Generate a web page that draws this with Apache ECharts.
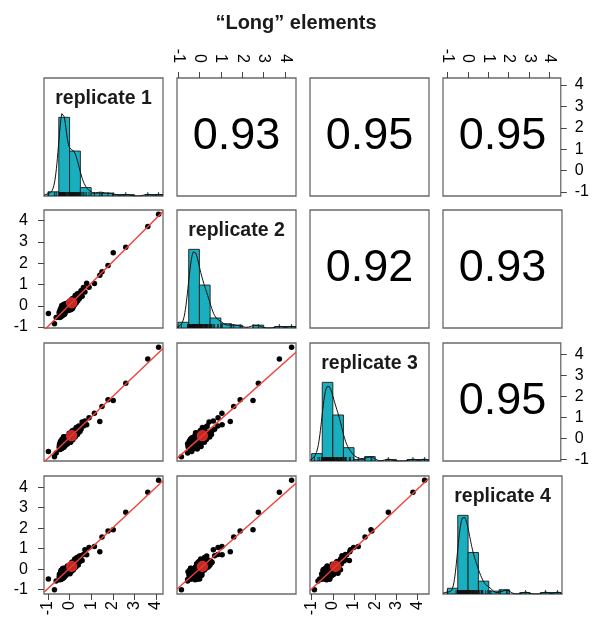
<!DOCTYPE html>
<html>
<head>
<meta charset="utf-8">
<script src="https://cdn.jsdelivr.net/npm/echarts@6/dist/echarts.min.js"></script>
<style>
  html, body { margin: 0; padding: 0; background: #ffffff; }
  #chart { width: 592px; height: 631px; }
</style>
</head>
<body>
<div id="chart"></div>
<script>
// Normalised signal of the "long" elements in four replicates (one value per element, same order in every array)
const rep1 = [
  -0.48,-0.46,-0.45,-0.44,-0.43,-0.42,-0.41,-0.40,-0.40,-0.39,-0.38,-0.38,-0.37,-0.36,-0.36,-0.35,-0.34,-0.34,
  -0.33,-0.32,-0.32,-0.31,-0.30,-0.30,-0.29,-0.28,-0.28,-0.27,-0.26,-0.26,-0.25,-0.24,-0.23,-0.22,-0.22,-0.21,
  -0.47,-0.43,-0.41,-0.39,-0.37,-0.35,-0.33,-0.31,-0.29,-0.27,-0.25,-0.22,-0.19,-0.16,-0.13,-0.10,-0.07,-0.05,-0.02,
  -0.44,
  0.01,0.02,0.04,0.05,0.07,0.08,0.10,0.11,0.12,0.14,0.15,0.17,0.18,0.20,0.21,0.23,0.24,0.26,0.27,0.29,0.31,0.32,
  0.34,0.36,0.38,0.40,0.42,0.44,0.46,0.48,0.13,0.09,
  0.53,0.58,0.64,0.71,0.79,0.90,
  -0.70,-0.98,-0.62,
  4.12,3.62,2.60,2.02,1.78,1.50,1.40,1.15
];
const rep2 = [
  -0.31,-0.55,-0.41,-0.20,-0.47,-0.31,-0.53,-0.10,-0.38,-0.46,-0.19,-0.48,-0.29,0.01,-0.42,-0.21,-0.47,-0.29,
  -0.07,-0.40,-0.17,-0.33,0.04,-0.41,-0.20,-0.34,-0.07,-0.41,-0.23,0.07,-0.34,-0.11,-0.40,-0.15,0.06,-0.26,
  -0.39,-0.27,-0.46,-0.17,-0.46,-0.32,-0.08,-0.43,-0.19,-0.31,-0.07,-0.35,-0.13,0.11,-0.23,0.04,-0.22,0.17,-0.09,
  -0.32,
  -0.20,0.11,-0.08,0.23,-0.18,0.12,-0.06,0.32,0.04,-0.13,0.28,0.12,-0.02,0.36,0.10,0.29,0.06,0.48,0.18,0.41,0.14,0.35,
  0.24,0.56,0.24,0.48,0.36,0.59,0.34,0.53,0.32,-0.13,
  0.71,0.45,0.86,0.65,1.06,0.87,
  -0.84,-0.36,-0.55,
  4.30,3.73,2.75,2.50,1.90,1.60,1.44,1.05
];
const rep3 = [
  -0.42,-0.26,-0.53,-0.31,-0.46,-0.15,-0.40,-0.51,-0.24,-0.34,-0.47,-0.15,-0.39,-0.24,-0.05,-0.45,-0.27,-0.15,
  -0.39,-0.03,-0.44,-0.21,-0.34,-0.06,-0.44,-0.26,0.08,-0.35,-0.09,-0.39,-0.17,0.06,-0.28,-0.08,-0.38,0.02,
  -0.32,-0.50,-0.15,-0.35,-0.19,-0.46,-0.24,-0.09,-0.43,-0.14,-0.31,0.03,-0.28,-0.11,0.08,-0.27,0.05,-0.13,0.24,
  -0.48,
  0.15,-0.17,0.09,-0.18,0.27,-0.02,0.19,-0.06,0.36,0.11,-0.07,0.27,0.20,0.05,0.40,0.15,0.37,0.06,0.34,0.17,0.52,0.28,
  0.45,0.18,0.41,0.27,0.59,0.36,0.56,0.33,-0.03,0.23,
  0.43,0.78,0.59,0.83,0.65,0.98,
  -0.87,-0.62,-0.70,
  4.33,3.78,2.62,1.80,1.84,1.52,0.80,1.20
];
const rep4 = [
  -0.38,-0.51,-0.24,-0.52,-0.28,-0.40,-0.13,-0.49,-0.28,-0.06,-0.42,-0.29,-0.18,-0.48,-0.30,-0.10,-0.41,-0.20,
  -0.32,0.03,-0.46,-0.14,-0.33,-0.22,-0.02,-0.38,-0.17,0.04,-0.32,-0.06,-0.40,-0.20,0.03,-0.33,-0.07,-0.23,
  -0.25,-0.40,-0.49,-0.23,-0.42,-0.06,-0.44,-0.24,-0.09,-0.40,-0.13,-0.26,0.04,-0.30,-0.04,0.15,-0.19,0.01,-0.20,
  -0.37,
  0.08,-0.22,0.21,-0.04,0.10,-0.12,0.33,0.05,-0.03,0.26,0.13,-0.04,0.37,0.10,0.26,0.06,0.50,0.19,0.41,0.10,0.40,0.19,
  0.57,0.31,0.53,0.20,0.46,0.33,0.64,0.39,0.24,-0.09,
  0.65,0.42,0.71,0.95,0.70,1.05,
  -1.00,-0.48,-0.58,
  4.33,3.75,2.78,1.92,1.86,1.57,0.85,1.10
];

const replicateNames = ['replicate 1', 'replicate 2', 'replicate 3', 'replicate 4'];
// Pearson correlations printed in the upper panels: [row, column, value]
const correlations = [
  [0, 1, '0.93'], [0, 2, '0.95'], [0, 3, '0.95'],
  [1, 2, '0.92'], [1, 3, '0.93'],
  [2, 3, '0.95']
];
const tickValues = [-1, 0, 1, 2, 3, 4];
const binEdges = [-1.5, -1, -0.5, 0, 0.5, 1, 1.5, 2, 2.5, 3, 3.5, 4, 4.5];

const reps = [rep1, rep2, rep3, rep4];
const FONT = 'Liberation Sans, Arial, Helvetica, sans-serif';

// panel grid (pixels)
const colLeft = [44, 177, 310, 443];
const rowTop = [78, 210, 343, 476];
const cellW = 119, cellH = 118;

const mean = v => v.reduce((a, b) => a + b, 0) / v.length;
function extent(v) {
  const mn = Math.min(...v), mx = Math.max(...v), pad = (mx - mn) * 0.04;
  return [mn - pad, mx + pad];
}
const ranges = reps.map(extent);

function histogram(v) {
  const out = [];
  for (let b = 0; b < binEdges.length - 1; b++) {
    const lo = binEdges[b], hi = binEdges[b + 1];
    const c = v.filter(x => x >= lo && x < hi).length;
    if (c > 0) out.push([lo, hi, c]);
  }
  return out;
}
function sd(v) {
  const m = mean(v);
  return Math.sqrt(v.reduce((a, x) => a + (x - m) * (x - m), 0) / (v.length - 1));
}
function quantile(v, p) {
  const s = [...v].sort((a, b) => a - b);
  const h = (s.length - 1) * p, lo = Math.floor(h);
  return s[lo] + (h - lo) * ((s[lo + 1] ?? s[lo]) - s[lo]);
}
// kernel density estimate scaled to histogram counts
function densityCurve(v, range, binWidth) {
  const iqr = quantile(v, 0.75) - quantile(v, 0.25);
  const bw = 0.9 * Math.min(sd(v), iqr / 1.34) * Math.pow(v.length, -0.2);
  const pts = [];
  const steps = 240;
  for (let s = 0; s <= steps; s++) {
    const x = range[0] + (range[1] - range[0]) * s / steps;
    let d = 0;
    for (const xi of v) { const z = (x - xi) / bw; d += Math.exp(-0.5 * z * z); }
    d = d / (v.length * bw * Math.sqrt(2 * Math.PI));
    pts.push([x, d * v.length * binWidth]);
  }
  return pts;
}
function fit(x, y) {
  const mx = mean(x), my = mean(y);
  let sxy = 0, sxx = 0;
  for (let i = 0; i < x.length; i++) { sxy += (x[i] - mx) * (y[i] - my); sxx += (x[i] - mx) * (x[i] - mx); }
  const b = sxy / sxx;
  return { a: my - b * mx, b };
}

const grids = [], xAxes = [], yAxes = [], series = [], graphics = [];
const labelStyle = { color: '#000', fontSize: 16, fontFamily: FONT };

for (let i = 0; i < 4; i++) {
  for (let j = 0; j < 4; j++) {
    const k = i * 4 + j;
    grids.push({
      left: colLeft[j], top: rowTop[i], width: cellW, height: cellH,
      show: true, borderColor: '#6a6a6a', borderWidth: 1.3, backgroundColor: '#fff'
    });

    const xa = {
      gridIndex: k, type: 'value', min: ranges[j][0], max: ranges[j][1],
      splitLine: { show: false },
      axisLine: { show: false, onZero: false },
      axisTick: { show: false },
      axisLabel: { show: false }
    };
    const showBottom = i === 3 && (j === 0 || j === 2);
    const showTop = i === 0 && (j === 1 || j === 3);
    if (showBottom || showTop) {
      xa.position = showBottom ? 'bottom' : 'top';
      xa.axisTick = { show: true, length: 6, inside: false, customValues: tickValues, lineStyle: { color: '#444', width: 1 } };
      xa.axisLabel = Object.assign({ show: true, rotate: 90, margin: showBottom ? 7 : 15, customValues: tickValues }, labelStyle);
    }
    xAxes.push(xa);

    const diag = i === j;
    let yMin = ranges[i][0], yMax = ranges[i][1];
    let hist = null;
    if (diag) {
      hist = histogram(reps[i]);
      yMin = 0;
      yMax = 1.5 * Math.max(...hist.map(h => h[2]));
    }
    const ya = {
      gridIndex: k, type: 'value', min: yMin, max: yMax,
      splitLine: { show: false },
      axisLine: { show: false, onZero: false },
      axisTick: { show: false },
      axisLabel: { show: false }
    };
    const showLeft = j === 0 && (i === 1 || i === 3);
    const showRight = j === 3 && (i === 0 || i === 2);
    if (showLeft || showRight) {
      ya.position = showLeft ? 'left' : 'right';
      ya.axisTick = { show: true, length: 6, inside: false, customValues: tickValues, lineStyle: { color: '#444', width: 1 } };
      ya.axisLabel = Object.assign({ show: true, margin: showLeft ? 16 : 14, customValues: tickValues }, labelStyle);
    }
    yAxes.push(ya);

    const cx = colLeft[j] + cellW / 2;

    if (diag) {
      // histogram bars
      series.push({
        type: 'custom', xAxisIndex: k, yAxisIndex: k, clip: true, z: 2,
        data: hist,
        renderItem: (params, api) => {
          const p0 = api.coord([api.value(0), api.value(2)]);
          const p1 = api.coord([api.value(1), 0]);
          return {
            type: 'rect',
            shape: { x: p0[0], y: p0[1], width: p1[0] - p0[0], height: p1[1] - p0[1] },
            style: { fill: '#1aafbf', stroke: '#1b1b1b', lineWidth: 0.9 }
          };
        }
      });
      // density curve
      series.push({
        type: 'line', xAxisIndex: k, yAxisIndex: k, z: 3,
        data: densityCurve(reps[i], ranges[i], 0.5),
        showSymbol: false, silent: true, clip: true,
        lineStyle: { color: '#111', width: 1 }
      });
      // rug
      series.push({
        type: 'custom', xAxisIndex: k, yAxisIndex: k, clip: true, z: 4,
        data: reps[i].map(v => [v]),
        renderItem: (params, api) => {
          const p = api.coord([api.value(0), 0]);
          return {
            type: 'line',
            shape: { x1: p[0], y1: p[1], x2: p[0], y2: p[1] - 4 },
            style: { stroke: '#111', lineWidth: 0.8 }
          };
        }
      });
      graphics.push({
        type: 'text', x: cx, y: rowTop[i] + 21, z: 10,
        style: { text: replicateNames[i], font: 'bold 19.5px ' + FONT, fill: '#1a1a1a', align: 'center', verticalAlign: 'middle' }
      });
    } else if (i > j) {
      const xs = reps[j], ys = reps[i];
      series.push({
        type: 'scatter', xAxisIndex: k, yAxisIndex: k, z: 2,
        data: xs.map((x, n) => [x, ys[n]]),
        symbolSize: 5.5, itemStyle: { color: '#000', opacity: 1 }, silent: true
      });
      const f = fit(xs, ys);
      const x0 = ranges[j][0], x1 = ranges[j][1];
      series.push({
        type: 'line', xAxisIndex: k, yAxisIndex: k, z: 3, clip: true,
        data: [[x0, f.a + f.b * x0], [x1, f.a + f.b * x1]],
        showSymbol: false, silent: true,
        lineStyle: { color: '#f0403a', width: 1.4 }
      });
      series.push({
        type: 'scatter', xAxisIndex: k, yAxisIndex: k, z: 4,
        data: [[mean(xs), mean(ys)]],
        symbolSize: 10, silent: true,
        itemStyle: { color: 'rgba(238,52,48,0.8)', borderColor: '#e02a25', borderWidth: 1.2, opacity: 1 }
      });
    }
  }
}

correlations.forEach(([i, j, r]) => {
  graphics.push({
    type: 'text', x: colLeft[j] + cellW / 2, y: rowTop[i] + cellH / 2, z: 10,
    style: { text: r, font: '45px ' + FONT, fill: '#000', align: 'center', verticalAlign: 'middle' }
  });
});

const chart = echarts.init(document.getElementById('chart'), null, { renderer: 'canvas' });
chart.setOption({
  animation: false,
  backgroundColor: '#ffffff',
  title: {
    text: '\u201CLong\u201D elements', left: 'center', top: 8,
    textStyle: { fontFamily: FONT, fontWeight: 'bold', fontSize: 20, color: '#1a1a1a' }
  },
  grid: grids,
  xAxis: xAxes,
  yAxis: yAxes,
  series: series,
  graphic: graphics
});
</script>
</body>
</html>
